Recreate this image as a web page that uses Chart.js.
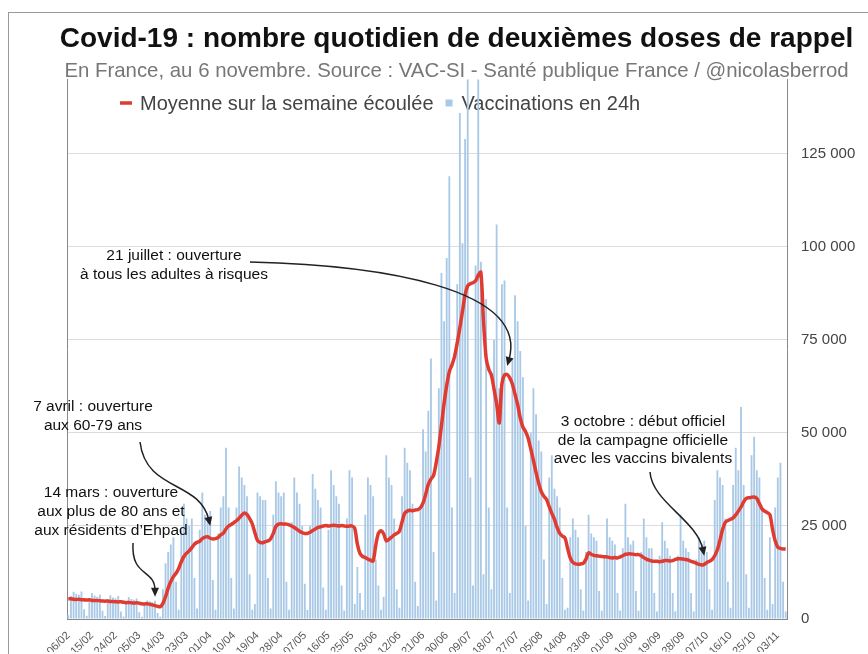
<!DOCTYPE html>
<html lang="fr">
<head>
<meta charset="utf-8">
<title>Covid-19 : deuxièmes doses de rappel</title>
<script src="https://cdn.jsdelivr.net/npm/chart.js@4.4.1/dist/chart.umd.min.js"></script>
<style>
  html, body { margin: 0; padding: 0; background: #fff; }
  #wrap { position: relative; width: 868px; height: 654px; }
  #frame { position: absolute; left: 8px; top: 12px; right: 0; bottom: 0;
           border-top: 1px solid #999; border-left: 1px solid #999; }
  #chart { position: absolute; left: 0; top: 0; }
</style>
</head>
<body>
<div id="wrap">
  <div id="frame"></div>
  <canvas id="chart" width="868" height="654"></canvas>
</div>
<script>
// dates (dd/mm), 6 Feb -> 6 Nov 2022
const dates = (
  '06/02 07/02 08/02 09/02 10/02 11/02 12/02 13/02 14/02 15/02 16/02 17/02 18/02 19/02 20/02 21/02 22/02 23/02 24/02 25/02 26/02 27/02 28/02 ' +
  '01/03 02/03 03/03 04/03 05/03 06/03 07/03 08/03 09/03 10/03 11/03 12/03 13/03 14/03 15/03 16/03 17/03 18/03 19/03 20/03 21/03 22/03 23/03 24/03 25/03 26/03 27/03 28/03 29/03 30/03 31/03 ' +
  '01/04 02/04 03/04 04/04 05/04 06/04 07/04 08/04 09/04 10/04 11/04 12/04 13/04 14/04 15/04 16/04 17/04 18/04 19/04 20/04 21/04 22/04 23/04 24/04 25/04 26/04 27/04 28/04 29/04 30/04 ' +
  '01/05 02/05 03/05 04/05 05/05 06/05 07/05 08/05 09/05 10/05 11/05 12/05 13/05 14/05 15/05 16/05 17/05 18/05 19/05 20/05 21/05 22/05 23/05 24/05 25/05 26/05 27/05 28/05 29/05 30/05 31/05 ' +
  '01/06 02/06 03/06 04/06 05/06 06/06 07/06 08/06 09/06 10/06 11/06 12/06 13/06 14/06 15/06 16/06 17/06 18/06 19/06 20/06 21/06 22/06 23/06 24/06 25/06 26/06 27/06 28/06 29/06 30/06 ' +
  '01/07 02/07 03/07 04/07 05/07 06/07 07/07 08/07 09/07 10/07 11/07 12/07 13/07 14/07 15/07 16/07 17/07 18/07 19/07 20/07 21/07 22/07 23/07 24/07 25/07 26/07 27/07 28/07 29/07 30/07 31/07 ' +
  '01/08 02/08 03/08 04/08 05/08 06/08 07/08 08/08 09/08 10/08 11/08 12/08 13/08 14/08 15/08 16/08 17/08 18/08 19/08 20/08 21/08 22/08 23/08 24/08 25/08 26/08 27/08 28/08 29/08 30/08 31/08 ' +
  '01/09 02/09 03/09 04/09 05/09 06/09 07/09 08/09 09/09 10/09 11/09 12/09 13/09 14/09 15/09 16/09 17/09 18/09 19/09 20/09 21/09 22/09 23/09 24/09 25/09 26/09 27/09 28/09 29/09 30/09 ' +
  '01/10 02/10 03/10 04/10 05/10 06/10 07/10 08/10 09/10 10/10 11/10 12/10 13/10 14/10 15/10 16/10 17/10 18/10 19/10 20/10 21/10 22/10 23/10 24/10 25/10 26/10 27/10 28/10 29/10 30/10 31/10 ' +
  '01/11 02/11 03/11 04/11 05/11 06/11'
).split(' ');

// shown x labels (every 9 days)
const xTickLabels = ['06/02','15/02','24/02','05/03','14/03','23/03','01/04','10/04','19/04','28/04',
  '07/05','16/05','25/05','03/06','12/06','21/06','30/06','09/07','18/07','27/07','05/08','14/08',
  '23/08','01/09','10/09','19/09','28/09','07/10','16/10','25/10','03/11'];

const yTicks = [0, 25000, 50000, 75000, 100000, 125000];

// vaccinations en 24h, one row per week (Sun..Sat)
const dailyDoses = [
  1000, 6200, 7300, 6800, 6500, 7400, 2600,
  900, 5600, 7000, 6300, 6000, 6600, 2200,
  800, 5300, 6400, 5800, 5600, 6200, 2000,
  700, 4600, 5900, 5400, 5200, 5500, 1800,
  600, 4200, 5000, 4800, 4500, 4900, 1600,
  600, 8000, 15000, 18000, 20000, 22000, 10000,
  2500, 24000, 31000, 27000, 25000, 27000, 11000,
  2800, 24000, 34000, 28000, 26000, 29000, 10500,
  2500, 23000, 30000, 33000, 46000, 30000, 11000,
  2800, 30000, 41000, 38000, 36000, 33000, 12000,
  2500, 4000, 34000, 33000, 32000, 32000, 11000,
  2800, 28000, 37000, 34000, 33000, 34000, 10000,
  2500, 26000, 38000, 34000, 31000, 25000, 9500,
  2400, 25000, 39000, 35000, 32000, 30000, 8500,
  2500, 24000, 40000, 36000, 33000, 31000, 9000,
  2300, 27000, 40000, 38000, 4000, 14000, 7000,
  2400, 28000, 38000, 36000, 33000, 16000, 9000,
  2500, 6000, 44000, 38000, 36000, 27000, 8000,
  3000, 33000, 46000, 42000, 40000, 31000, 10000,
  3500, 30000, 51000, 45000, 56000, 70000, 18000,
  5000, 62000, 93000, 80000, 97000, 119000, 30000,
  7000, 90000, 136000, 101000, 129000, 150000, 38000,
  9000, 95000, 152000, 96000, 12000, 86000, 30000,
  8000, 75000, 106000, 62000, 90000, 91000, 30000,
  7000, 70000, 87000, 80000, 72000, 65000, 25000,
  5000, 50000, 62000, 55000, 48000, 45000, 16000,
  4000, 38000, 44000, 35000, 33000, 30000, 11000,
  2500, 3000, 22000, 27000, 24000, 22000, 8000,
  2300, 18000, 28000, 23000, 22000, 21000, 7500,
  2200, 17000, 27000, 22000, 21000, 20000, 7000,
  2300, 19000, 31000, 22000, 20000, 21000, 7500,
  2200, 18000, 27000, 22000, 19000, 19000, 7000,
  2000, 17000, 26000, 21000, 19000, 17000, 7000,
  2100, 17000, 28000, 21000, 19000, 18000, 7000,
  2000, 16000, 22000, 20000, 21000, 18000, 8000,
  2500, 32000, 40000, 38000, 36000, 27000, 10000,
  3000, 36000, 46000, 40000, 57000, 36000, 12000,
  3000, 44000, 49000, 40000, 38000, 30000, 11000,
  2500, 22000, 4000, 30000, 38000, 42000, 10000,
  2000
];

// moyenne sur la semaine écoulée
const weeklyAverage = [
  5400, 5450, 5300, 5250, 5300, 5200, 5150,
  5100, 5150, 5000, 4950, 5000, 4900, 4850,
  4800, 4850, 4700, 4700, 4650, 4600, 4650,
  4500, 4400, 4450, 4350, 4300, 4350, 4250,
  4100, 4050, 4100, 3950, 3800, 3600, 3400,
  3300, 4200, 6000, 8300, 10100, 11400, 12300,
  13600, 15400, 16800, 17700, 18300, 19200, 20100,
  20600, 20900, 21600, 22000, 22100, 21700, 21500,
  21600, 21900, 22600, 23100, 24200, 25000, 25400,
  25900, 26400, 27100, 27900, 28500, 28100, 27000,
  25600, 23200, 21100, 20600, 20500, 20800, 21000,
  21600, 23000, 24900, 25500, 25600, 25500, 25500,
  25300, 25000, 24600, 24100, 23600, 23200, 23000,
  23000, 23300, 23800, 24200, 24600, 24800, 25000,
  25100, 25000, 25100, 25200, 25100, 25000, 25100,
  25000, 24900, 25000, 25000, 24400, 20100, 17600,
  16800, 16500, 16100, 15800, 15600, 19800, 23000,
  23700, 22900, 21000, 21400, 22000, 22600, 23000,
  23600, 26100, 28400, 29000, 29200, 29100, 29300,
  29400, 29900, 31200, 33500, 36200, 37600, 38600,
  42000, 46300, 52000, 57900, 62800, 66500, 68300,
  70600, 74200, 78300, 82700, 87100, 89600, 90100,
  90400, 90900, 92400, 93200, 80100, 70200, 67100,
  65600, 61800, 57900, 52700, 63200, 65600, 65700,
  64800, 63100, 60400, 57600, 54000, 51600, 50400,
  48600, 45700, 42600, 39400, 36500, 34200, 33000,
  32100, 30200, 28400, 26800, 24600, 23000, 22300,
  21800, 19000, 16400, 15200, 14800, 14700, 14800,
  15000, 16100, 17800, 17400, 17100, 17000, 16900,
  16800, 16700, 16700, 16500, 16400, 16500, 16400,
  16700, 17000, 17400, 17500, 17500, 17400, 17300,
  17300, 17000, 16500, 16100, 15800, 15600, 15500,
  15500, 15400, 15500, 15700, 15700, 15600, 15700,
  16000, 16200, 16200, 16100, 16000, 15800, 15500,
  15300, 15000, 14700, 14500, 14700, 15200, 15500,
  16000, 17000, 18600, 21200, 24100, 26000, 26500,
  26800, 27200, 28000, 29000, 30100, 31500, 32400,
  32600, 32700, 32800, 32400, 31000, 29600, 29000,
  28600, 28000, 24100, 21000, 19300, 19000, 18800,
  18800
];

// annotations: text block + arrow pointing at (date, value)
const notes = [
  { lines: ['14 mars : ouverture', 'aux plus de 80 ans et', 'aux résidents d’Ehpad'],
    cx: 111, cy: 493, gap: 19, from: [133, 543], c1: [131, 578], c2: [155, 568], tipDate: '11/03', tipValue: 6000 },
  { lines: ['7 avril : ouverture', 'aux 60-79 ans'],
    cx: 93, cy: 407, gap: 18.5, from: [140, 442], c1: [146, 492], c2: [200, 480], tipDate: '01/04', tipValue: 25000 },
  { lines: ['21 juillet : ouverture', 'à tous les adultes à risques'],
    cx: 174, cy: 256, gap: 18.5, from: [250, 262], c1: [380, 265], c2: [530, 288], tipDate: '23/07', tipValue: 68000 },
  { lines: ['3 octobre : début officiel', 'de la campagne officielle', 'avec les vaccins bivalents'],
    cx: 643, cy: 422, gap: 18.5, from: [650, 472], c1: [652, 502], c2: [697, 520], tipDate: '06/10', tipValue: 17000 }
];

const FONT = '"Liberation Sans", Arial, Helvetica, sans-serif';
Chart.defaults.font.family = FONT;

const spaced = v => String(v).replace(/\B(?=(\d{3})+(?!\d))/g, ' ');

const extras = {
  id: 'extras',
  beforeDatasetsDraw(chart) {
    // legend, drawn under the bars like in the original
    const ctx = chart.ctx;
    const [avg, bars] = chart.data.datasets;
    const y = 103;
    ctx.save();
    ctx.font = '20px ' + FONT;
    ctx.textBaseline = 'middle';
    ctx.fillStyle = '#444';
    ctx.strokeStyle = avg.borderColor;
    ctx.lineWidth = 3.5;
    ctx.beginPath();
    ctx.moveTo(120, y);
    ctx.lineTo(132, y);
    ctx.stroke();
    ctx.fillText(avg.label, 140, y + 1);
    const x2 = 140 + ctx.measureText(avg.label).width + 12;
    ctx.fillStyle = bars.backgroundColor;
    ctx.fillRect(x2, y - 3.5, 7, 7);
    ctx.fillStyle = '#444';
    ctx.fillText(bars.label, x2 + 16, y + 1);
    ctx.restore();
  },
  afterDatasetsDraw(chart) {
    const { ctx, scales: { x, y } } = chart;
    ctx.save();
    ctx.font = '15.5px ' + FONT;
    ctx.textAlign = 'center';
    ctx.textBaseline = 'middle';
    notes.forEach(n => {
      ctx.fillStyle = '#111';
      n.lines.forEach((t, k) => ctx.fillText(t, n.cx, n.cy + k * n.gap));
      const tx = x.getPixelForValue(dates.indexOf(n.tipDate));
      const ty = y.getPixelForValue(n.tipValue);
      const a = Math.atan2(ty - n.c2[1], tx - n.c2[0]);
      const ex = tx - 6 * Math.cos(a), ey = ty - 6 * Math.sin(a);
      ctx.strokeStyle = '#222';
      ctx.lineWidth = 1.5;
      ctx.beginPath();
      ctx.moveTo(n.from[0], n.from[1]);
      ctx.bezierCurveTo(n.c1[0], n.c1[1], n.c2[0], n.c2[1], ex, ey);
      ctx.stroke();
      ctx.fillStyle = '#222';
      ctx.beginPath();
      ctx.moveTo(tx, ty);
      ctx.lineTo(tx - 9 * Math.cos(a) + 4 * Math.sin(a), ty - 9 * Math.sin(a) - 4 * Math.cos(a));
      ctx.lineTo(tx - 9 * Math.cos(a) - 4 * Math.sin(a), ty - 9 * Math.sin(a) + 4 * Math.cos(a));
      ctx.closePath();
      ctx.fill();
    });
    ctx.restore();
  }
};

new Chart(document.getElementById('chart'), {
  data: {
    labels: dates,
    datasets: [
      {
        type: 'line',
        label: 'Moyenne sur la semaine écoulée',
        data: weeklyAverage,
        borderColor: '#e03b30',
        borderWidth: 3.5,
        pointRadius: 0,
        tension: 0.3,
        yAxisID: 'y',
        order: 0
      },
      {
        type: 'bar',
        label: 'Vaccinations en 24h',
        data: dailyDoses,
        backgroundColor: '#a9c9e7',
        barPercentage: 0.7,
        categoryPercentage: 1,
        yAxisID: 'y',
        order: 1
      }
    ]
  },
  options: {
    responsive: false,
    animation: false,
    layout: { padding: { left: 56, right: 11, top: 12, bottom: 2 } },
    plugins: {
      legend: { display: false },
      tooltip: { enabled: false },
      title: {
        display: true,
        text: 'Covid-19 : nombre quotidien de deuxièmes doses de rappel',
        color: '#111',
        font: { size: 28, weight: 'bold', lineHeight: 1.15 },
        padding: { top: 11, bottom: 0 }
      },
      subtitle: {
        display: true,
        text: 'En France, au 6 novembre. Source : VAC-SI - Santé publique France / @nicolasberrod',
        color: '#777',
        font: { size: 20.4, lineHeight: 0.8 },
        padding: { top: 8, bottom: 0 }
      }
    },
    scales: {
      x: {
        grid: { display: false },
        border: { color: '#888' },
        ticks: {
          autoSkip: false,
          minRotation: 45,
          maxRotation: 45,
          padding: 2,
          color: '#555',
          font: { size: 11 },
          callback: (v, i) => (xTickLabels.includes(dates[i]) ? dates[i] : '')
        },
        afterFit: s => { s.height = 33; }
      },
      y: {
        position: 'right',
        min: 0,
        max: 145000,
        grid: { color: '#dcdcdc', drawTicks: false },
        border: { color: '#888' },
        ticks: { color: '#444', font: { size: 15 }, padding: 14, callback: v => spaced(v) },
        afterBuildTicks: s => { s.ticks = yTicks.map(v => ({ value: v })); },
        afterFit: s => { s.width = 70; }
      },
      yLeft: {
        position: 'left',
        min: 0,
        max: 1,
        grid: { display: false },
        border: { color: '#888' },
        ticks: { display: false },
        afterFit: s => { s.width = 11; }
      }
    }
  },
  plugins: [extras]
});
</script>
</body>
</html>
